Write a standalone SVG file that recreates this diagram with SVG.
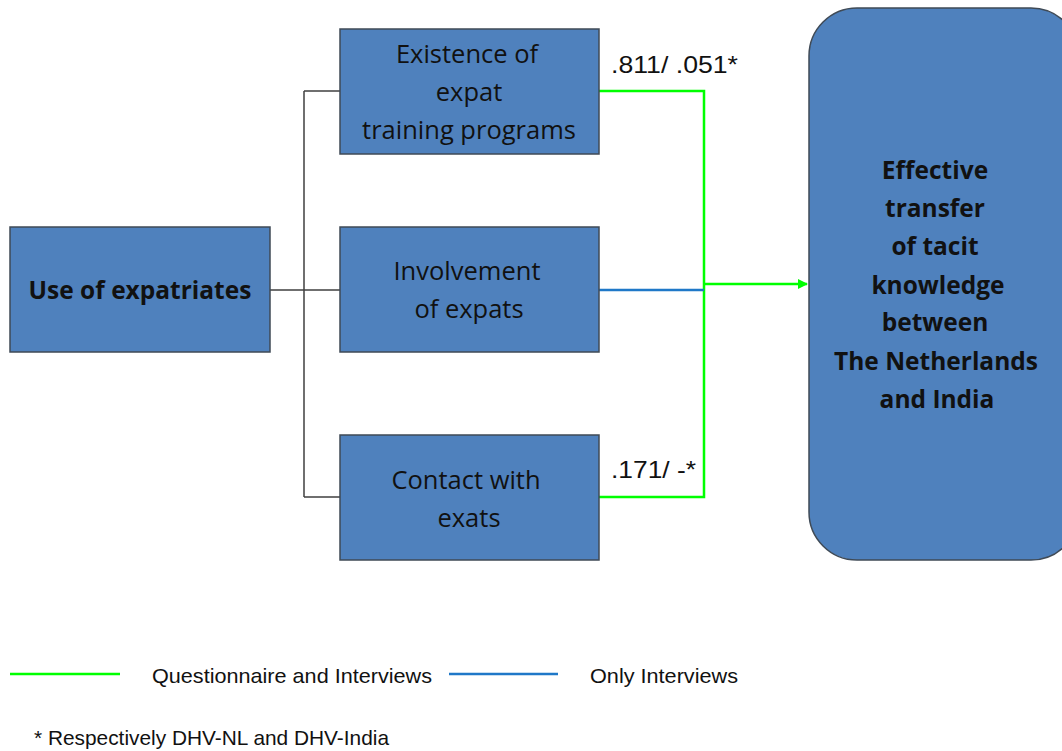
<svg xmlns="http://www.w3.org/2000/svg" width="1062" height="751" viewBox="0 0 1062 751">
  <style>
    .box { fill: #4F81BD; stroke: #3F4A56; stroke-width: 1.5; }
    .t { font-family: "Open Sans", "Liberation Sans", sans-serif; font-size: 25.5px; fill: #111; text-anchor: middle; }
    .b { font-weight: bold; font-size: 24.5px; }
    .num { font-family: "Liberation Sans", Arial, sans-serif; font-size: 24px; fill: #111; }
    .leg { font-family: "Liberation Sans", Arial, sans-serif; font-size: 21px; fill: #111; }
    .tree { fill: none; stroke: #404040; stroke-width: 1.5; }
    .green { fill: none; stroke: #00FF00; stroke-width: 2.5; }
    .blue { fill: none; stroke: #1F78C8; stroke-width: 2.5; }
  </style>
  <defs>
    <marker id="arrowGreen" markerWidth="10" markerHeight="10" refX="9" refY="5" orient="auto" markerUnits="userSpaceOnUse">
      <path d="M0,0 L10,5 L0,10 Z" fill="#00FF00"/>
    </marker>
  </defs>
  <rect width="1062" height="751" fill="#fff"/>

  <g id="connectors">
    <path class="tree" d="M270,290 H340 M304,91 V497 M304,91 H340 M304,497 H340"/>
    <path class="green" d="M599,91 H704 V497 H599"/>
    <path class="blue" d="M599,290 H704"/>
    <path class="green" d="M704,284 H807" marker-end="url(#arrowGreen)"/>
  </g>

  <g id="node-use">
    <rect class="box" x="10" y="227" width="260" height="125"/>
    <text class="t b" x="140" y="299">Use of expatriates</text>
  </g>

  <g id="node-existence">
    <rect class="box" x="340" y="29" width="259" height="125"/>
    <text class="t" x="467" y="63">Existence of</text>
    <text class="t" x="469" y="101">expat</text>
    <text class="t" x="469" y="139">training programs</text>
  </g>

  <g id="node-involvement">
    <rect class="box" x="340" y="227" width="259" height="125"/>
    <text class="t" x="467" y="280">Involvement</text>
    <text class="t" x="469" y="318">of expats</text>
  </g>

  <g id="node-contact">
    <rect class="box" x="340" y="435" width="259" height="125"/>
    <text class="t" x="466" y="489">Contact with</text>
    <text class="t" x="469" y="527">exats</text>
  </g>

  <g id="node-transfer">
    <rect class="box" x="809" y="8" width="270" height="552" rx="48" ry="48"/>
    <text class="t b" x="935" y="179">Effective</text>
    <text class="t b" x="935" y="217">transfer</text>
    <text class="t b" x="935" y="255">of tacit</text>
    <text class="t b" x="938" y="294">knowledge</text>
    <text class="t b" x="935" y="331">between</text>
    <text class="t b" x="936" y="370">The Netherlands</text>
    <text class="t b" x="937" y="408">and India</text>
  </g>

  <g id="labels">
    <text class="num" x="611" y="73" textLength="127" lengthAdjust="spacingAndGlyphs">.811/ .051*</text>
    <text class="num" x="611" y="478" textLength="85" lengthAdjust="spacingAndGlyphs">.171/ -*</text>
  </g>

  <g id="legend">
    <line class="green" x1="10" y1="674" x2="120" y2="674"/>
    <text class="leg" x="152" y="683" textLength="280" lengthAdjust="spacingAndGlyphs">Questionnaire and Interviews</text>
    <line class="blue" x1="449" y1="674" x2="558" y2="674"/>
    <text class="leg" x="590" y="683" textLength="148" lengthAdjust="spacingAndGlyphs">Only Interviews</text>
    <text class="leg" x="34" y="745" textLength="355" lengthAdjust="spacingAndGlyphs">* Respectively DHV-NL and DHV-India</text>
  </g>
</svg>
